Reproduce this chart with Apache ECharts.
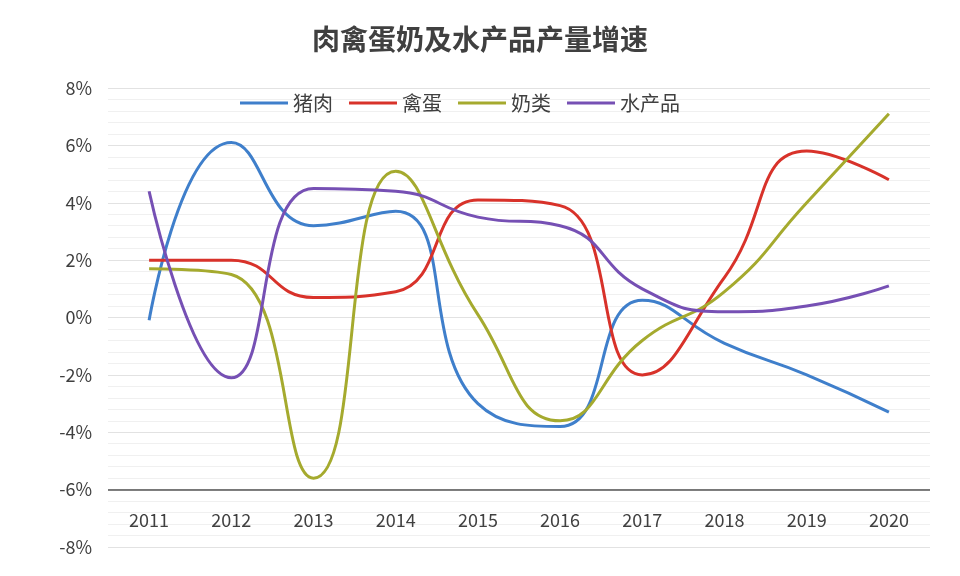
<!DOCTYPE html>
<html><head><meta charset="utf-8">
<script src="https://cdn.jsdelivr.net/npm/echarts@6/dist/echarts.min.js"></script>
<style>html,body{margin:0;padding:0;background:#fff}#c{width:960px;height:576px}</style>
</head><body><div id="c"></div>
<script>
const years = ['2011','2012','2013','2014','2015','2016','2017','2018','2019','2020'];
const pork = [-0.1, 6.1, 3.2, 3.7, -3.0, -3.8, 0.6, -0.9, -2.0, -3.3];
const eggs = [2.0, 2.0, 0.7, 0.9, 4.1, 3.9, -2.0, 1.4, 5.8, 4.8];
const milk = [1.7, 1.5, -5.6, 5.1, 0.1, -3.6, -0.8, 0.9, 4.0, 7.1];
const aqua = [4.4, -2.1, 4.5, 4.4, 3.5, 3.2, 1.0, 0.2, 0.4, 1.1];
const names = ['猪肉','禽蛋','奶类','水产品'];
const colors = ['#3f7fcb','#d8322a','#a5aa2e','#7650b4'];
const data = [pork, eggs, milk, aqua];
const font = 'Noto Sans CJK SC';
const chart = echarts.init(document.getElementById('c'));
chart.setOption({
  animation:false,
  title:{text:'肉禽蛋奶及水产品产量增速',left:'center',top:20,textStyle:{fontFamily:font,fontSize:28,fontWeight:'bold',color:'#404040'}},
  legend:{top:88,left:235,itemWidth:48,itemHeight:3,itemGap:16,icon:'rect',textStyle:{fontFamily:font,fontSize:20,color:'#404040'}},
  grid:{left:108,right:30,top:88,bottom:29},
  xAxis:{type:'category',data:years,boundaryGap:true,axisLine:{show:false},axisTick:{show:false},
    axisLabel:{margin:-36,fontFamily:font,fontSize:18,color:'#404040'}},
  yAxis:{type:'value',min:-8,max:8,interval:2,axisLine:{show:false},axisTick:{show:false},
    axisLabel:{formatter:v=>v+'%',fontFamily:font,fontSize:18,color:'#404040',margin:16},
    splitLine:{lineStyle:{color:'#e2e2e2'}},
    minorTick:{show:false,splitNumber:5},minorSplitLine:{show:true,lineStyle:{color:'#f0f0f0'}}},
  series: names.map((n,i)=>({name:n,type:'line',smooth:0.5,symbol:'none',data:data[i],
    lineStyle:{width:3,color:colors[i]},itemStyle:{color:colors[i]},
    markLine: i===0 ? {silent:true,symbol:'none',label:{show:false},lineStyle:{color:'#555',width:1.5,type:'solid'},data:[{yAxis:-6}]} : undefined}))
});
</script></body></html>
